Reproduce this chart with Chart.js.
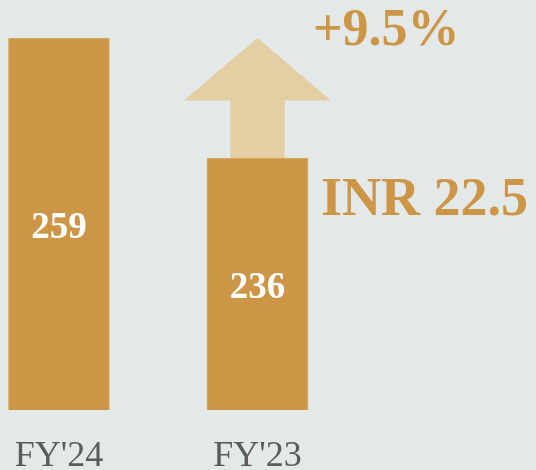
<!DOCTYPE html>
<html>
<head>
<meta charset="utf-8">
<script src="https://cdn.jsdelivr.net/npm/chart.js@4.4.1/dist/chart.umd.min.js"></script>
<style>
  html, body { margin: 0; padding: 0; background: #e3e9e9; overflow: hidden; }
  #wrap { width: 536px; height: 470px; }
</style>
</head>
<body>
<div id="wrap"><canvas id="chart"></canvas></div>
<script>
// Revenue by year (INR)
const categories = ["FY'24", "FY'23"];
const values = [259, 236];
const growthLabel = '+9.5%';
const changeLabel = 'INR 22.5';

const gold = '#cc9646';
const lightGold = '#e4cfa4';
const serif = '"Liberation Serif", "DejaVu Serif", serif';

// Arrow from FY'23 bar top up to FY'24 level, plus the two callouts
const growthArrow = {
  id: 'growthArrow',
  beforeDatasetsDraw(chart) {
    const { ctx, scales: { x, y } } = chart;
    const cx = x.getPixelForValue(1);
    const w = chart.getDatasetMeta(0).data[1].width;
    const top = y.getPixelForValue(values[0]);
    const bottom = y.getPixelForValue(values[1]);
    const headBase = top + (bottom - top) * 0.52;
    const headHalf = w * 0.73;
    const shaftHalf = w * 0.27;

    ctx.save();
    ctx.fillStyle = lightGold;
    ctx.beginPath();
    ctx.moveTo(cx, top);
    ctx.lineTo(cx + headHalf, headBase);
    ctx.lineTo(cx + shaftHalf, headBase);
    ctx.lineTo(cx + shaftHalf, bottom);
    ctx.lineTo(cx - shaftHalf, bottom);
    ctx.lineTo(cx - shaftHalf, headBase);
    ctx.lineTo(cx - headHalf, headBase);
    ctx.closePath();
    ctx.fill();
    ctx.restore();
  },
  afterDatasetsDraw(chart) {
    const { ctx, scales: { x, y }, chartArea } = chart;
    const w = chart.getDatasetMeta(0).data[1].width;

    ctx.save();
    // values inside bars
    ctx.fillStyle = '#ffffff';
    ctx.font = 'bold 37px ' + serif;
    ctx.textAlign = 'center';
    ctx.textBaseline = 'middle';
    values.forEach((v, i) => {
      const mid = (y.getPixelForValue(v) + chartArea.bottom) / 2;
      ctx.fillText(String(v), x.getPixelForValue(i), mid + 4);
    });

    // callouts
    const right = x.getPixelForValue(1) + w / 2;
    ctx.fillStyle = gold;
    ctx.textAlign = 'left';
    ctx.textBaseline = 'alphabetic';
    ctx.font = 'bold 52px ' + serif;
    ctx.fillText(growthLabel, right + 5, 45);
    ctx.font = 'bold 54px ' + serif;
    ctx.fillText(changeLabel, right + 13, 215);
    ctx.restore();
  }
};

new Chart(document.getElementById('chart').getContext('2d'), {
  type: 'bar',
  data: {
    datasets: [{
      data: values.map((v, i) => ({ x: i, y: v })),
      backgroundColor: gold,
      borderColor: '#d6ae6e',
      borderWidth: 1,
      borderSkipped: 'bottom',
      barThickness: 101
    }]
  },
  options: {
    responsive: true,
    maintainAspectRatio: false,
    animation: false,
    layout: { padding: 0 },
    plugins: { legend: { display: false }, tooltip: { enabled: false } },
    scales: {
      x: {
        type: 'linear',
        offset: false,
        min: -0.297,
        max: 2.403,
        grid: { display: false, drawTicks: false },
        border: { display: false },
        afterBuildTicks: (s) => { s.ticks = categories.map((c, i) => ({ value: i })); },
        afterFit: (s) => { s.height = 60; s.paddingLeft = 0; s.paddingRight = 0; },
        ticks: {
          padding: 25,
          color: '#5b5b5b',
          font: { family: serif, size: 36 },
          callback: (v) => categories[v]
        }
      },
      y: {
        display: false,
        min: 187.7,
        max: 266.3
      }
    }
  },
  plugins: [growthArrow]
});
</script>
</body>
</html>
